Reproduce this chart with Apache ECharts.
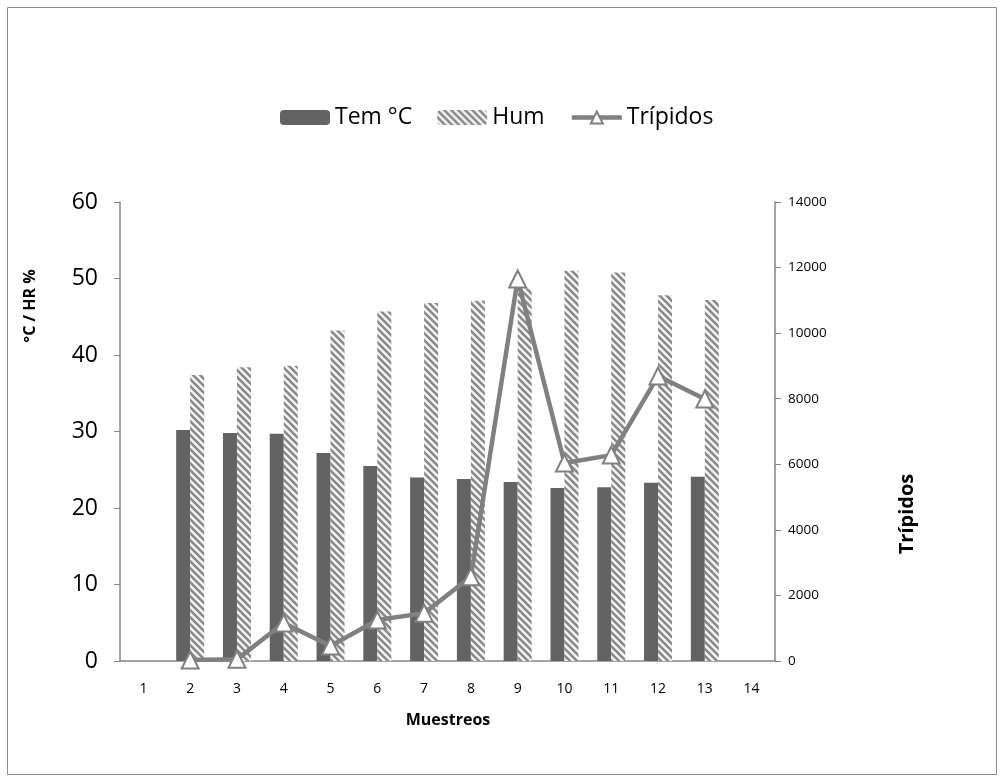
<!DOCTYPE html>
<html>
<head>
<meta charset="utf-8">
<script src="https://cdn.jsdelivr.net/npm/echarts@6/dist/echarts.min.js"></script>
<style>
  html, body { margin: 0; padding: 0; background: #fff; }
  #chart { width: 1000px; height: 782px; }
</style>
</head>
<body>
<div id="chart"></div>
<script>
var muestreos = ['1', '2', '3', '4', '5', '6', '7', '8', '9', '10', '11', '12', '13', '14'];
var temC = [null, 30.2, 29.8, 29.7, 27.2, 25.5, 24.0, 23.8, 23.4, 22.6, 22.7, 23.3, 24.1, null];
var hum = [null, 37.4, 38.4, 38.6, 43.2, 45.7, 46.8, 47.1, 48.7, 51.0, 50.8, 47.8, 47.2, null];
var tripidos = [null, 30, 50, 1160, 460, 1250, 1460, 2570, 11650, 6040, 6280, 8690, 7990, null];
var leftTicks = [0, 10, 20, 30, 40, 50, 60];
var rightTicks = [0, 2000, 4000, 6000, 8000, 10000, 12000, 14000];

// hatch pattern for Hum bars
function hatch() {
    var c = document.createElement('canvas');
    c.width = 7; c.height = 7;
    var ctx = c.getContext('2d');
    ctx.fillStyle = '#f4f4f4';
    ctx.fillRect(0, 0, 7, 7);
    ctx.strokeStyle = '#8a8a8a';
    ctx.lineWidth = 2.6;
    ctx.beginPath();
    for (var k = -7; k <= 7; k += 7) {
        ctx.moveTo(k - 1, -1);
        ctx.lineTo(k + 8, 8);
    }
    ctx.stroke();
    return c;
}
var hatchFill = { image: hatch(), repeat: 'repeat' };

var font = '"Open Sans", Lato, sans-serif';
var axisGray = '#868686';
var lineGray = '#808080';

var chart = echarts.init(document.getElementById('chart'));
chart.setOption({
    animation: false,
    textStyle: { fontFamily: font, color: '#000' },
    grid: { left: 120, right: 225, top: 202, bottom: 121, containLabel: false },
    legend: {
        top: 101,
        left: 275,
        itemWidth: 50,
        itemHeight: 15,
        itemGap: 25,
        textStyle: { fontSize: 23, fontFamily: font, color: '#000' },
        data: [
            { name: 'Tem °C' },
            { name: 'Hum' },
            { name: 'Trípidos', lineStyle: { width: 4.5, color: lineGray } }
        ]
    },
    xAxis: {
        type: 'category',
        data: muestreos,
        axisLine: { lineStyle: { color: axisGray, width: 1.5 } },
        axisTick: { show: false },
        axisLabel: { fontSize: 14, margin: 21, color: '#000' }
    },
    yAxis: [{
        type: 'value',
        min: leftTicks[0],
        max: leftTicks[leftTicks.length - 1],
        interval: 10,
        splitLine: { show: false },
        axisLine: { show: true, lineStyle: { color: axisGray, width: 1.5 } },
        axisTick: { show: true, length: 6, lineStyle: { color: axisGray } },
        axisLabel: { fontSize: 23, margin: 22, color: '#000' }
    }, {
        type: 'value',
        position: 'right',
        min: rightTicks[0],
        max: rightTicks[rightTicks.length - 1],
        interval: 2000,
        splitLine: { show: false },
        axisLine: { show: true, lineStyle: { color: axisGray, width: 1.5 } },
        axisTick: { show: true, length: 6, lineStyle: { color: axisGray } },
        axisLabel: { fontSize: 13.5, margin: 13, color: '#000', formatter: function (v) { return String(v); } }
    }],
    series: [{
        name: 'Tem °C',
        type: 'bar',
        data: temC,
        barWidth: 14,
        barGap: '0%',
        itemStyle: { color: '#636363' }
    }, {
        name: 'Hum',
        type: 'bar',
        data: hum,
        barWidth: 14,
        itemStyle: { color: hatchFill }
    }, {
        name: 'Trípidos',
        type: 'line',
        yAxisIndex: 1,
        data: tripidos,
        symbol: 'triangle',
        symbolSize: 17,
        z: 5,
        lineStyle: { color: lineGray, width: 4.5 },
        itemStyle: { color: '#ffffff', borderColor: lineGray, borderWidth: 2 }
    }],
    graphic: [{
        type: 'rect',
        shape: { x: 7.5, y: 7.5, width: 989, height: 767 },
        style: { fill: null, stroke: '#8c8c8c', lineWidth: 1 },
        silent: true
    }, {
        type: 'text',
        x: 30, y: 306,
        rotation: Math.PI / 2,
        style: { text: '°C / HR %', font: 'bold 16px ' + font, fill: '#000', align: 'center', verticalAlign: 'middle' }
    }, {
        type: 'text',
        x: 907, y: 514,
        rotation: Math.PI / 2,
        style: { text: 'Trípidos', font: 'bold 20px ' + font, fill: '#000', align: 'center', verticalAlign: 'middle' }
    }, {
        type: 'text',
        x: 448, y: 720,
        style: { text: 'Muestreos', font: 'bold 16px ' + font, fill: '#000', align: 'center', verticalAlign: 'middle' }
    }]
});
</script>
</body>
</html>
